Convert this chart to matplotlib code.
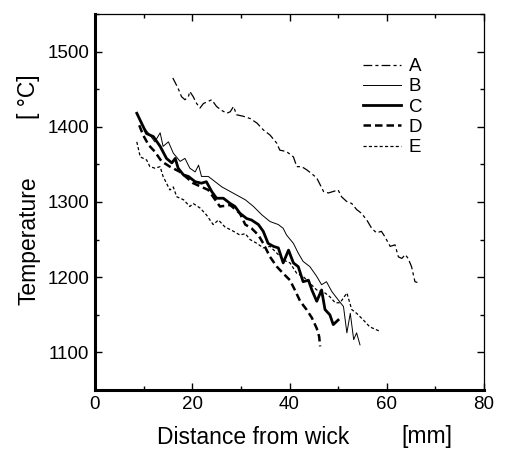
import matplotlib
matplotlib.use("Agg")
import matplotlib.pyplot as plt
from matplotlib.ticker import MultipleLocator

plt.rcParams['font.family'] = ['Liberation Sans', 'DejaVu Sans']

# curve A
a_x = [16.0, 17.1, 17.8, 18.5, 19.2, 19.5, 20.2, 20.9, 21.6, 22.3, 23.0, 24.0, 25.0, 26.0,
       27.1, 27.8, 28.5, 29.1, 30.5, 31.9, 33.3, 34.6, 36.0, 37.4, 38.0, 39.4, 40.8, 41.5,
       42.5, 43.5, 44.5, 45.6, 46.3, 47.0, 48.0, 49.0, 50.0, 50.7, 51.7, 52.8, 53.8, 54.8,
       55.9, 56.9, 57.9, 58.9, 59.6, 60.7, 61.7, 62.4, 63.1, 63.8, 64.4, 65.1, 65.8, 66.3]
a_y = [1465, 1451, 1440, 1436, 1440, 1447, 1440, 1431, 1425, 1431, 1433, 1436, 1427, 1422,
       1418, 1420, 1427, 1416, 1414, 1411, 1405, 1396, 1389, 1378, 1369, 1367, 1360, 1347,
       1347, 1343, 1338, 1332, 1323, 1314, 1312, 1314, 1316, 1307, 1301, 1298, 1290, 1285,
       1276, 1265, 1259, 1261, 1254, 1241, 1243, 1227, 1225, 1230, 1225, 1214, 1194, 1193]

# curve B
b_x = [8.6, 9.9, 11.3, 12.3, 13.4, 14.0, 15.1, 16.1, 17.5, 18.5, 19.5, 20.6, 21.3, 21.9,
       23.3, 24.3, 26.1, 27.8, 29.2, 30.9, 32.6, 34.3, 36.0, 37.7, 38.7, 39.4, 40.8, 41.8,
       42.8, 44.2, 45.6, 46.6, 47.6, 48.7, 50.0, 51.1, 51.8, 52.5, 53.2, 53.8, 54.5]
b_y = [1418, 1400, 1389, 1380, 1392, 1374, 1380, 1365, 1354, 1358, 1345, 1340, 1349, 1334,
       1334, 1329, 1320, 1314, 1309, 1303, 1294, 1283, 1274, 1270, 1265, 1256, 1245, 1232,
       1221, 1214, 1201, 1190, 1194, 1181, 1170, 1161, 1126, 1152, 1117, 1126, 1110]

# curve C
c_x = [8.6, 10.6, 12.0, 13.4, 14.7, 15.8, 16.5, 17.1, 18.2, 19.2, 20.6, 21.9, 22.9, 24.0,
       25.0, 26.4, 27.8, 28.8, 29.8, 31.2, 32.2, 33.6, 34.6, 35.6, 36.7, 37.7, 38.7, 39.8,
       40.8, 41.8, 42.8, 43.9, 44.6, 45.6, 46.6, 47.3, 48.3, 49.0, 50.0]
c_y = [1418, 1391, 1387, 1374, 1358, 1352, 1358, 1345, 1336, 1334, 1327, 1325, 1327, 1314,
       1305, 1305, 1298, 1294, 1285, 1278, 1276, 1270, 1261, 1245, 1241, 1239, 1219, 1236,
       1219, 1214, 1194, 1196, 1183, 1168, 1183, 1157, 1150, 1137, 1143]

# curve D
d_x = [9.1, 9.9, 11.0, 12.3, 13.7, 15.4, 17.5, 20.2, 23.3, 25.7, 27.8, 29.8, 30.9, 32.2,
       33.6, 34.6, 36.0, 37.4, 38.7, 40.1, 41.1, 42.2, 43.5, 44.6, 45.6, 46.1, 46.3]
d_y = [1402, 1389, 1376, 1367, 1354, 1347, 1340, 1325, 1316, 1294, 1296, 1285, 1270, 1265,
       1256, 1245, 1227, 1214, 1205, 1196, 1183, 1168, 1157, 1146, 1132, 1121, 1108]

# curve E
e_x = [8.6, 9.3, 10.6, 11.3, 12.3, 13.4, 14.0, 14.7, 15.4, 16.1, 16.8, 18.2, 19.5, 20.2,
       21.6, 22.9, 24.3, 25.4, 26.7, 28.5, 29.8, 30.9, 31.9, 33.3, 34.6, 36.0, 37.4, 38.7,
       40.1, 41.5, 42.8, 44.2, 45.6, 46.9, 48.3, 49.4, 50.4, 51.8, 52.8, 53.8, 55.2, 56.5,
       57.9, 58.6]
e_y = [1380, 1360, 1356, 1347, 1345, 1347, 1334, 1325, 1316, 1320, 1307, 1303, 1294, 1298,
       1292, 1283, 1270, 1276, 1267, 1261, 1256, 1258, 1250, 1245, 1239, 1241, 1232, 1223,
       1219, 1205, 1201, 1192, 1183, 1181, 1174, 1166, 1166, 1179, 1157, 1152, 1143, 1134,
       1130, 1128]

fig = plt.figure(figsize=(5.07, 4.49), dpi=100)
ax = fig.add_axes([95 / 507, 1 - 390 / 449, 389 / 507, 376 / 449])

ax.plot(a_x, a_y, color='black', lw=0.9, dashes=(7, 2.5, 2.5, 2.5), label='A')
ax.plot(b_x, b_y, color='black', lw=0.7, label='B')
ax.plot(c_x, c_y, color='black', lw=2.0, label='C')
ax.plot(d_x, d_y, color='black', lw=1.8, dashes=(3, 1.6), label='D')
ax.plot(e_x, e_y, color='black', lw=0.9, dashes=(2.5, 1.8), label='E')

ax.set_xlim(0, 80)
ax.set_ylim(1050, 1550)
ax.xaxis.set_major_locator(MultipleLocator(20))
ax.xaxis.set_minor_locator(MultipleLocator(10))
ax.yaxis.set_major_locator(MultipleLocator(100))
ax.yaxis.set_minor_locator(MultipleLocator(50))
ax.set_yticks([1100, 1200, 1300, 1400, 1500])
ax.tick_params(which='both', direction='in', top=True, right=True, labelsize=13.5, width=1)
ax.tick_params(which='major', length=5, pad=4)
ax.tick_params(which='minor', length=3)

for side in ['left', 'bottom']:
    ax.spines[side].set_linewidth(2.2)
for side in ['top', 'right']:
    ax.spines[side].set_linewidth(0.9)

ax.legend(loc='upper left', bbox_to_anchor=(0.665, 0.908), frameon=False, fontsize=13.5,
          handlelength=2.0, handletextpad=0.45, labelspacing=0.17, borderpad=0)

fig.text(29 / 507, 1 - 241 / 449, 'Temperature', rotation=90, ha='center', va='center', fontsize=16.5)
fig.text(29 / 507, 1 - 97 / 449, '[ °C]', rotation=90, ha='center', va='center', fontsize=16.5)
fig.text(253 / 507, 1 - 437 / 449, 'Distance from wick', ha='center', va='center', fontsize=16.5)
fig.text(427 / 507, 1 - 437 / 449, '[mm]', ha='center', va='center', fontsize=16.5)

fig.savefig('out.png', dpi=100)
